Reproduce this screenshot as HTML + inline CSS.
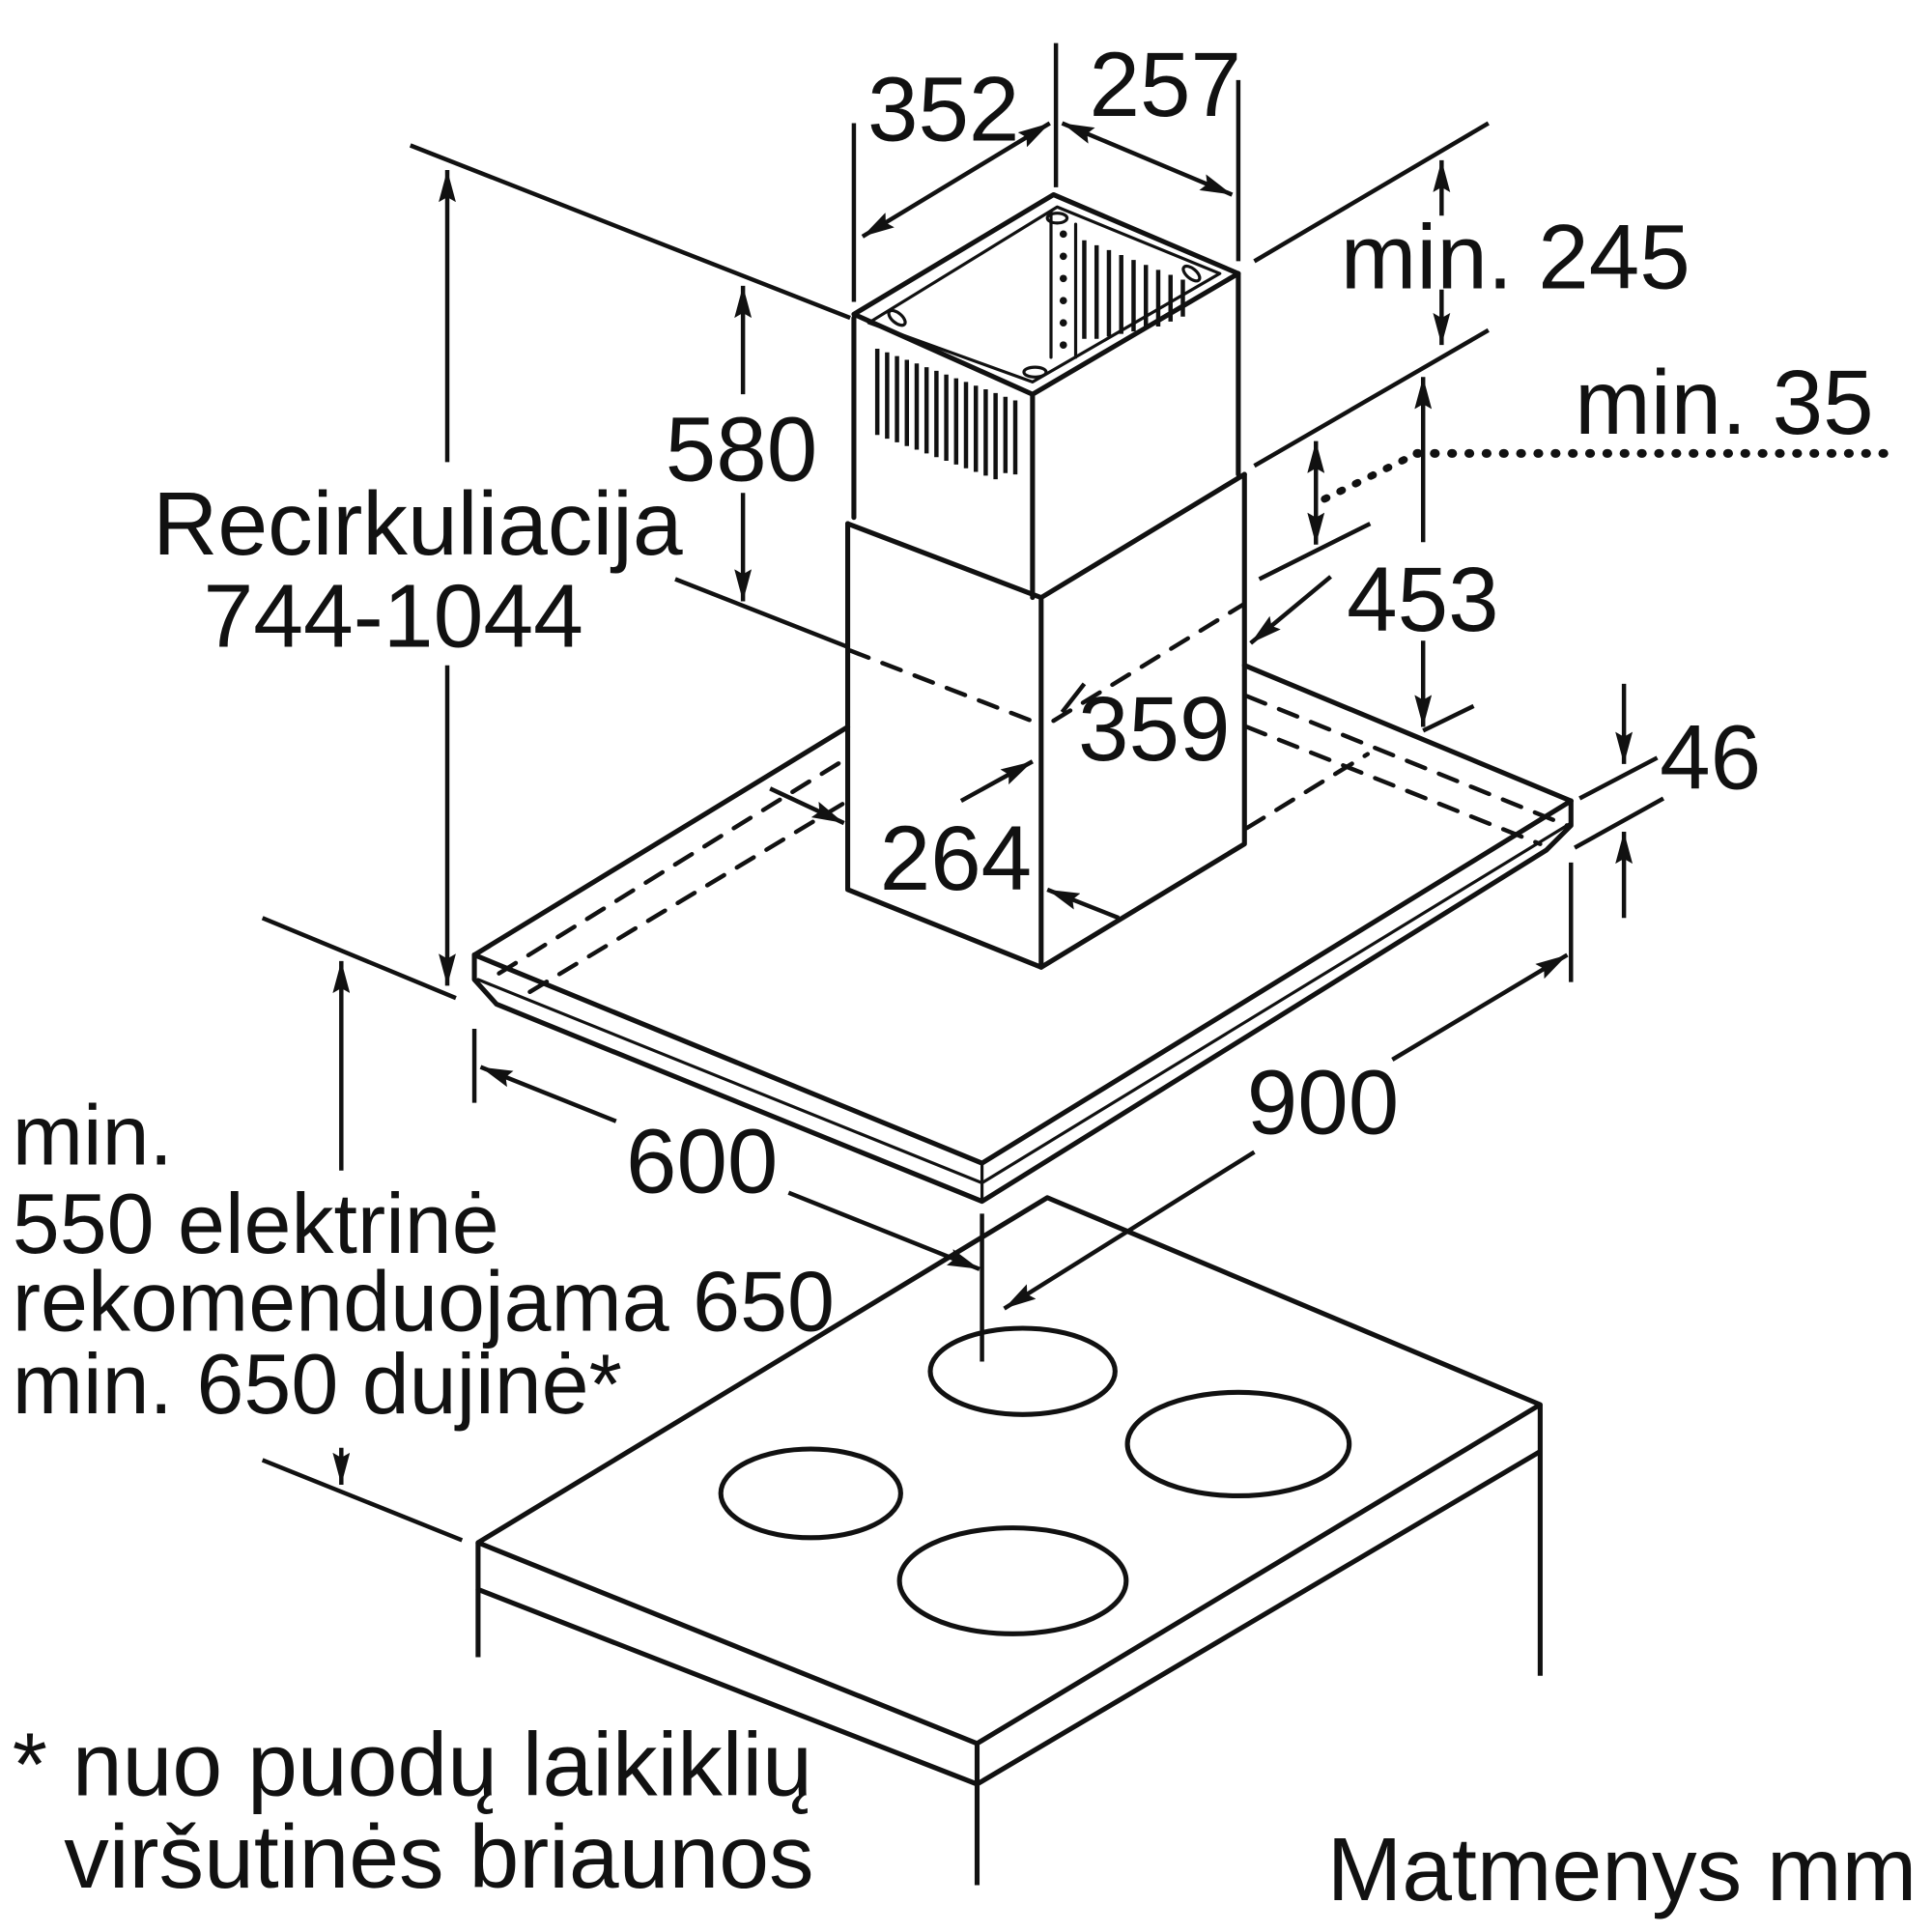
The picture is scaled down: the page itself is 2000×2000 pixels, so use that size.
<!DOCTYPE html>
<html><head><meta charset="utf-8"><style>
html,body{margin:0;padding:0;background:#fff}
svg{display:block}
text{font-family:"Liberation Sans",sans-serif;fill:#111}
</style></head><body>
<svg width="2000" height="2000" viewBox="0 0 1568 1568" xmlns="http://www.w3.org/2000/svg">
<defs>
<marker id="a" viewBox="0 0 26 14" refX="26" refY="7" markerWidth="26" markerHeight="14" markerUnits="userSpaceOnUse" orient="auto-start-reverse"><path d="M0,0 L26,7 L0,14 L4,7 z" fill="#111"/></marker>
</defs>
<style>
.a{marker-end:url(#a)}
.ab{marker-start:url(#a);marker-end:url(#a)}
</style>
<g stroke="#111" stroke-width="4" fill="none" stroke-linejoin="round" stroke-linecap="round">
<path d="M385,775 L797,944 L1275,650"/>
<path d="M385,775 L688,590"/>
<path d="M1275,650 L1010,540"/>
<path d="M385,775 L385,795 L403,815 L797,975 L1255,690 L1275,670 L1275,650"/>
<path d="M388,795 L797,960 L1275,668" stroke-width="2.5"/>
<path d="M797,944 L797,975" stroke-width="2.5"/>
<g stroke-dasharray="16,12" stroke-width="3.5">
<path d="M405,790 L688,615"/>
<path d="M430,805 L688,650"/>
<path d="M690,528 L845,588"/>
<path d="M855,585 L1010,490"/>
<path d="M1012,565 L1272,670"/>
<path d="M1012,590 L1250,685"/>
<path d="M1012,672 L1110,612"/>
</g>
<path d="M688,425 L688,722 L845,785 L1010,685 L1010,385"/>
<path d="M688,425 L845,485 L1010,385"/>
<path d="M845,485 L845,785"/>
<path d="M693,258 L693,420"/>
<path d="M693,255 L838,320 L1005,222 L855,158 Z"/>
<path d="M838,320 L838,485"/>
<path d="M1005,222 L1005,385"/>
<path d="M705,262 L838,310 L990,222 L858,168 Z" stroke-width="2.5"/>
<path d="M853,172 L853,290 M873,182 L873,290" stroke-width="2.5"/>
</g>
<g fill="none" stroke="#111">
<path d="M712,283 v70 M720,286 v70 M728,289 v70 M736,292 v70 M744,295 v70 M752,298 v70 M760,301 v70 M768,304 v70 M776,307 v70 M784,310 v70 M792,313 v70 M800,316 v70 M808,319 v70 M816,322 v62 M824,325 v60" stroke-width="3.5"/>
<path d="M880,195 v80 M890,199 v76 M900,203 v70 M910,207 v64 M920,211 v58 M930,215 v52 M940,219 v46 M950,223 v38 M960,227 v30" stroke-width="3.5"/>
</g>
<g fill="#111">
<circle cx="863" cy="190" r="3"/><circle cx="863" cy="208" r="3"/><circle cx="863" cy="226" r="3"/><circle cx="863" cy="244" r="3"/><circle cx="863" cy="262" r="3"/><circle cx="863" cy="280" r="3"/>
</g>
<g fill="none" stroke="#111" stroke-width="2.5">
<ellipse cx="728" cy="258" rx="8" ry="4" transform="rotate(40 728 258)"/>
<ellipse cx="858" cy="177" rx="8" ry="4"/>
<ellipse cx="967" cy="222" rx="8" ry="4" transform="rotate(40 967 222)"/>
<ellipse cx="840" cy="302" rx="9" ry="4"/>
</g>
<g stroke="#111" stroke-width="4" fill="none" stroke-linejoin="round">
<path d="M388,1252 L850,972 L1250,1140 L793,1415 Z"/>
<path d="M388,1252 L388,1290 L793,1448 L1250,1178"/>
<path d="M793,1415 L793,1448"/>
<path d="M388,1290 L388,1345"/>
<path d="M793,1448 L793,1530"/>
<path d="M1250,1140 L1250,1360"/>
<ellipse cx="830" cy="1113" rx="75" ry="35"/>
<ellipse cx="1005" cy="1172" rx="90" ry="42"/>
<ellipse cx="658" cy="1212" rx="73" ry="36"/>
<ellipse cx="822" cy="1283" rx="92" ry="43"/>
</g>
<g stroke="#111" stroke-width="3.5" fill="none">
<path d="M693,245 L693,100"/>
<path d="M857,35 L857,152"/>
<path d="M1005,65 L1005,212"/>
<path class="ab" d="M700,192 L852,100"/>
<path class="ab" d="M862,100 L1000,158"/>
<path d="M333,118 L690,258"/>
<path class="a" d="M363,375 L363,138"/>
<path class="a" d="M363,540 L363,800"/>
<path d="M213,745 L370,810"/>
<path class="a" d="M603,320 L603,232"/>
<path class="a" d="M603,400 L603,488"/>
<path d="M548,470 L688,525"/>
<path d="M1018,212 L1208,100"/>
<path d="M1018,378 L1208,268"/>
<path class="a" d="M1170,175 L1170,130"/>
<path class="a" d="M1170,235 L1170,280"/>
<path class="ab" d="M1068,358 L1068,442"/>
<path d="M1022,470 L1112,425"/>
<path d="M1075,405 L1150,368" stroke-dasharray="2,12" stroke-width="6" stroke-linecap="round"/>
<path d="M1150,368 L1535,368" stroke-dasharray="1,13" stroke-width="7" stroke-linecap="round"/>
<path class="a" d="M1155,440 L1155,306"/>
<path class="a" d="M1155,520 L1155,590"/>
<path d="M1155,593 L1196,573"/>
<path class="a" d="M1080,468 L1015,522"/>
<path d="M880,555 L862,578"/>
<path class="a" d="M780,650 L838,618"/>
<path class="a" d="M625,640 L685,668"/>
<path class="a" d="M908,745 L850,722"/>
<path class="a" d="M1318,555 L1318,620"/>
<path class="a" d="M1318,745 L1318,675"/>
<path d="M1282,648 L1345,615"/>
<path d="M1278,688 L1350,648"/>
<path d="M1275,700 L1275,797"/>
<path class="a" d="M1130,860 L1272,775"/>
<path class="a" d="M1018,935 L815,1062"/>
<path d="M385,835 L385,895"/>
<path class="a" d="M500,910 L390,866"/>
<path class="a" d="M640,968 L795,1030"/>
<path d="M797,985 L797,1105"/>
<path class="a" d="M277,950 L277,780"/>
<path class="a" d="M277,1175 L277,1205"/>
<path d="M213,1185 L375,1250"/>
</g>
<g font-size="74">
<text x="704" y="114">352</text>
<text x="884" y="94">257</text>
<text x="1088" y="234">min. 245</text>
<text x="1278" y="352">min. 35</text>
<text x="540" y="390">580</text>
<text x="1093" y="512">453</text>
<text x="875" y="617">359</text>
<text x="714" y="722">264</text>
<text x="1347" y="640">46</text>
<text x="1012" y="920">900</text>
<text x="508" y="968">600</text>
<text x="124" y="450" font-size="73">Recirkuliacija</text>
<text x="165" y="525" font-size="73">744-1044</text>
<text x="1077" y="1542" font-size="73">Matmenys mm</text>
</g>
<g font-size="69">
<text x="10" y="945">min.</text>
<text x="10" y="1017">550 elektrinė</text>
<text x="10" y="1080">rekomenduojama 650</text>
<text x="10" y="1147">min. 650 dujinė*</text>
<text x="10" y="1457" font-size="73">* nuo puodų laikiklių</text>
<text x="52" y="1532" font-size="73">viršutinės briaunos</text>
</g>
</svg>
</body></html>
